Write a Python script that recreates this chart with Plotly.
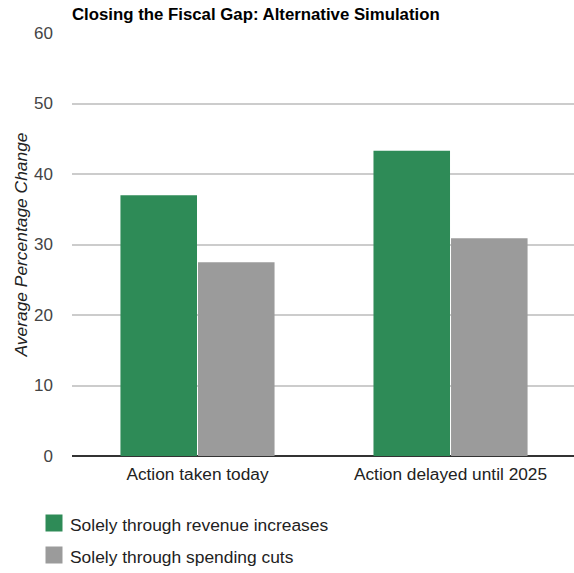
import plotly.graph_objects as go

categories = ["Action taken today", "Action delayed until 2025"]
revenue_increases = [37.0, 43.3]
spending_cuts = [27.5, 30.9]
series_names = ["Solely through revenue increases", "Solely through spending cuts"]
series_colors = ["#2E8B57", "#9B9B9B"]
y_ticks = [0, 10, 20, 30, 40, 50, 60]

FONT = "Liberation Sans, Arial, sans-serif"
W, H = 574, 573
ML, MT, MB = 72, 33, 117

fig = go.Figure()
for name, vals, color in zip(series_names, [revenue_increases, spending_cuts], series_colors):
    fig.add_trace(go.Bar(
        x=categories, y=vals, name=name, showlegend=False,
        marker=dict(color=color, line=dict(width=0)),
    ))

# Legend drawn as swatches + labels below the plot
plot_h = H - MT - MB
plot_w = W - ML
for i, (name, color) in enumerate(zip(series_names, series_colors)):
    cy = 523 + i * 32  # pixel row centre
    y0 = (H - MB - (cy + 8.5)) / plot_h
    y1 = (H - MB - (cy - 8.5)) / plot_h
    fig.add_shape(type="rect", xref="paper", yref="paper",
                  x0=(45.5 - ML) / plot_w, x1=(62.5 - ML) / plot_w,
                  y0=y0, y1=y1, fillcolor=color, line=dict(width=0))
    fig.add_annotation(text=name, xref="paper", yref="paper",
                       x=(67.5 - ML) / plot_w, xanchor="left",
                       y=(H - MB - (cy + 2)) / plot_h, yanchor="middle",
                       showarrow=False,
                       font=dict(family=FONT, size=17.4, color="#222222"))

fig.update_layout(
    width=W, height=H,
    margin=dict(l=ML, r=0, t=MT, b=MB, autoexpand=False),
    paper_bgcolor="white", plot_bgcolor="white",
    barmode="group", bargap=0.387, bargroupgap=0.013,
    font=dict(family=FONT, size=17, color="#444444"),
    title=dict(
        text="<b>Closing the Fiscal Gap: Alternative Simulation</b>",
        x=72 / W, xref="container", xanchor="left",
        y=1 - 14 / H, yref="container", yanchor="middle",
        font=dict(family=FONT, size=16.8, color="#000000"),
    ),
    xaxis=dict(
        range=[-0.496, 1.488], showgrid=False, ticks="",
        tickfont=dict(family=FONT, size=17.3, color="#222222"),
        showline=False, zeroline=False, tickangle=0,
        ticklabelstandoff=6,
    ),
    yaxis=dict(
        range=[0, 60], tickvals=y_ticks, showgrid=True,
        gridcolor="#CCCCCC", gridwidth=2,
        zeroline=True, zerolinecolor="#333333", zerolinewidth=2,
        tickfont=dict(family=FONT, size=17, color="#444444"),
        ticks="", ticklabelstandoff=18,
        title=dict(text="<i>Average Percentage Change</i>", standoff=1,
                   font=dict(family=FONT, size=17.4, color="#222222")),
    ),
)

fig.write_html("out.html")
